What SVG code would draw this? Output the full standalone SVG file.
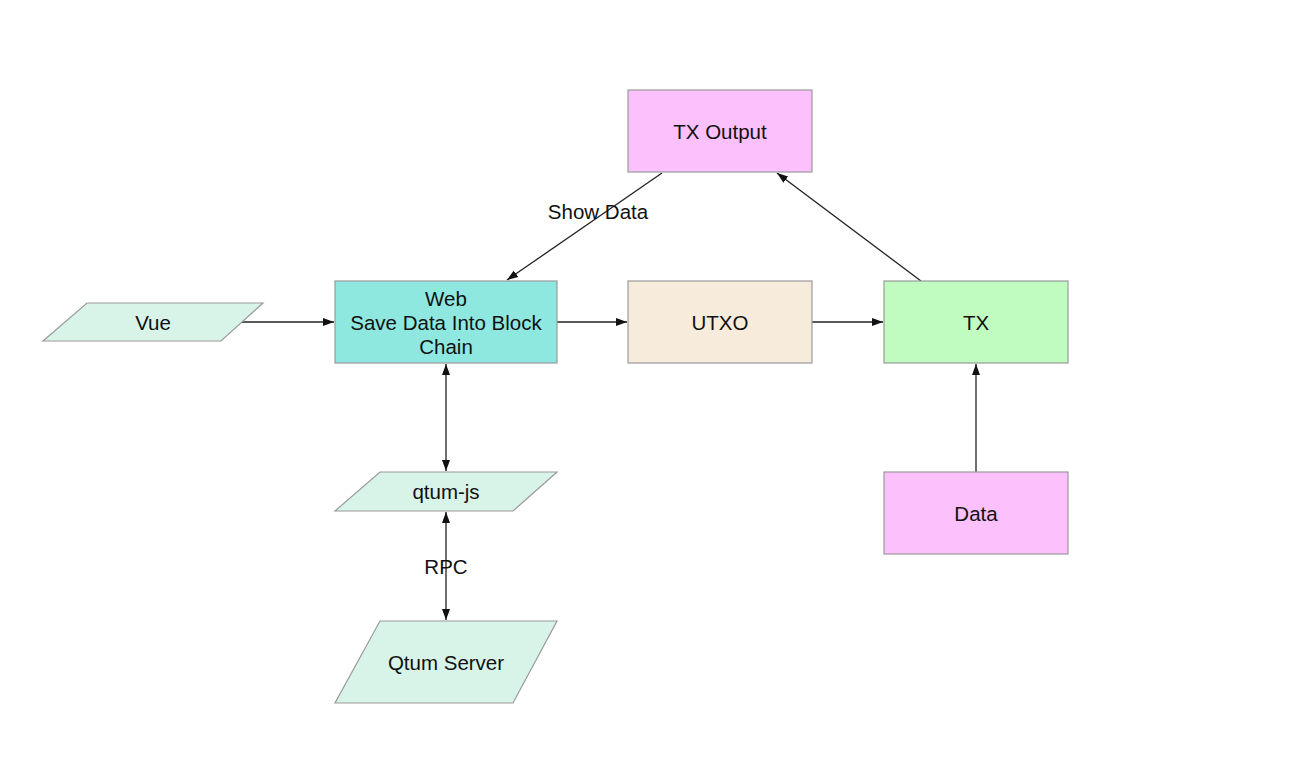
<svg xmlns="http://www.w3.org/2000/svg" width="1314" height="772" viewBox="0 0 1314 772">
<style>
.n{stroke:#9a9a9a;stroke-width:1.2}
.t{font-family:"Liberation Sans",Arial,Helvetica,sans-serif;font-size:20.5px;fill:#111;text-anchor:middle}
.e{stroke:#222;stroke-width:1.3;fill:none}
.mint{fill:#d8f3e8}
.pink{fill:#fcc0fc}
</style>
<defs>
<marker id="ah" viewBox="0 0 11 10" refX="11" refY="5" markerWidth="11" markerHeight="10" markerUnits="userSpaceOnUse" orient="auto-start-reverse">
<path d="M0,1 L11,5 L0,9 Z" fill="#111"/>
</marker>
</defs>
<rect width="1314" height="772" fill="#fff"/>
<g id="connectors">
<line class="e" x1="242" y1="322" x2="334" y2="322" marker-end="url(#ah)"/>
<line class="e" x1="557" y1="322" x2="627" y2="322" marker-end="url(#ah)"/>
<line class="e" x1="812" y1="322" x2="883" y2="322" marker-end="url(#ah)"/>
<line class="e" x1="976" y1="472" x2="976" y2="364" marker-end="url(#ah)"/>
<line class="e" x1="921" y1="281" x2="777" y2="173" marker-end="url(#ah)"/>
<line class="e" x1="662" y1="173" x2="507" y2="280" marker-end="url(#ah)"/>
<text class="t" x="598" y="219">Show Data</text>
<line class="e" x1="446" y1="364" x2="446" y2="471" marker-start="url(#ah)" marker-end="url(#ah)"/>
<line class="e" x1="446" y1="512" x2="446" y2="620" marker-start="url(#ah)" marker-end="url(#ah)"/>
<text class="t" x="446" y="574">RPC</text>
</g>
<g id="vue">
<polygon class="n mint" points="87,303 263,303 221,341 43,341"/>
<text class="t" x="153" y="330">Vue</text>
</g>
<g id="web">
<rect class="n" x="335" y="281" width="222" height="82" fill="#8ee8e0"/>
<text class="t" x="446" y="306">Web</text>
<text class="t" x="446" y="330">Save Data Into Block</text>
<text class="t" x="446" y="354">Chain</text>
</g>
<g id="utxo">
<rect class="n" x="628" y="281" width="184" height="82" fill="#f7ebdc"/>
<text class="t" x="720" y="330">UTXO</text>
</g>
<g id="tx">
<rect class="n" x="884" y="281" width="184" height="82" fill="#c0fcc0"/>
<text class="t" x="976" y="330">TX</text>
</g>
<g id="txoutput">
<rect class="n pink" x="628" y="90" width="184" height="82"/>
<text class="t" x="720" y="139">TX Output</text>
</g>
<g id="data">
<rect class="n pink" x="884" y="472" width="184" height="82"/>
<text class="t" x="976" y="521">Data</text>
</g>
<g id="qtumjs">
<polygon class="n mint" points="380,472 557,472 513,511 335,511"/>
<text class="t" x="446" y="499">qtum-js</text>
</g>
<g id="qtumserver">
<polygon class="n mint" points="380,621 557,621 513,703 335,703"/>
<text class="t" x="446" y="670">Qtum Server</text>
</g>
</svg>
